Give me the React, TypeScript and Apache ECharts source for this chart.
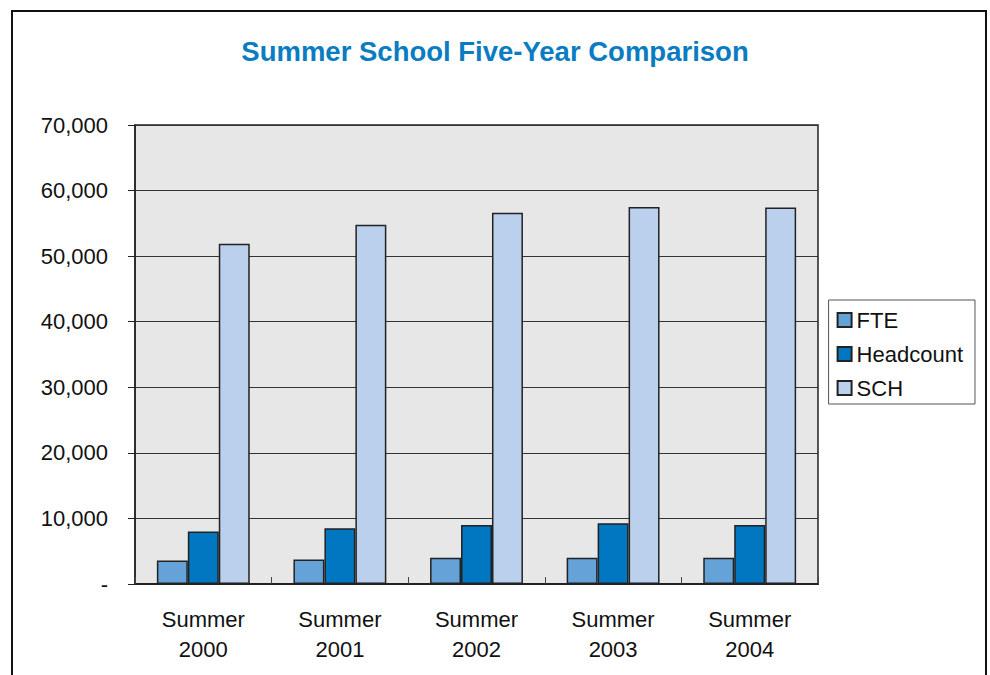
import React, { useEffect, useRef } from "react";
import * as echarts from "echarts";

const categories = ["Summer\n2000", "Summer\n2001", "Summer\n2002", "Summer\n2003", "Summer\n2004"];
const fte = [3600, 3750, 4000, 4000, 4000];
const headcount = [8000, 8500, 9000, 9250, 9000];
const sch = [51900, 54800, 56600, 57500, 57400];
const seriesNames = ["FTE", "Headcount", "SCH"];
const seriesColors = ["#65A2D8", "#0077C0", "#BAD0EC"];
const titleText = "Summer School Five-Year Comparison";

export default function App() {
  const ref = useRef<HTMLDivElement>(null);
  useEffect(() => {
    if (!ref.current) return;
    const chart = echarts.init(ref.current, null, { renderer: "svg" });
    const font = "'Liberation Sans', Arial, sans-serif";
    const values = [fte, headcount, sch];
    chart.setOption({
      animation: false,
      backgroundColor: "#ffffff",
      textStyle: { fontFamily: font },
      title: {
        text: titleText,
        left: "center",
        top: 32,
        textStyle: { color: "#0A7CC1", fontSize: 27.5, fontWeight: "bold", fontFamily: font },
      },
      graphic: [
        {
          type: "rect",
          shape: { x: 12, y: 11, width: 974, height: 700 },
          style: { fill: "none", stroke: "#111", lineWidth: 2 },
          silent: true,
        },
      ],
      legend: {
        orient: "vertical",
        right: 15,
        top: 300,
        itemWidth: 14,
        itemHeight: 14,
        itemGap: 12,
        icon: "rect",
        backgroundColor: "#ffffff",
        borderColor: "#555",
        borderWidth: 1,
        padding: [9, 12, 5, 8],
        textStyle: { fontSize: 22, color: "#111", fontFamily: font },
        data: seriesNames,
      },
      grid: {
        left: 135,
        top: 125,
        right: 172,
        bottom: 91,
        show: true,
        backgroundColor: "#E6E7E6",
        borderColor: "#222",
        borderWidth: 1.5,
      },
      xAxis: {
        type: "category",
        data: categories,
        axisLine: { lineStyle: { color: "#222", width: 2 } },
        axisTick: { show: true, inside: true, length: 7, lineStyle: { color: "#444" } },
        axisLabel: { fontSize: 22, color: "#111", lineHeight: 30, margin: 20, fontFamily: font },
      },
      yAxis: {
        type: "value",
        min: 0,
        max: 70000,
        interval: 10000,
        axisLine: { show: true, lineStyle: { color: "#222", width: 1.5 } },
        axisTick: { show: true, length: 7, lineStyle: { color: "#222" } },
        splitLine: { lineStyle: { color: "#333", width: 1 } },
        axisLabel: {
          fontSize: 22,
          color: "#111",
          margin: 27,
          fontFamily: font,
          formatter: (v: number) => (v === 0 ? "-" : v.toLocaleString("en-US")),
        },
      },
      series: seriesNames.map((name, i) => ({
        name,
        type: "bar",
        data: values[i],
        barGap: "0%",
        barCategoryGap: "32%",
        itemStyle: { color: seriesColors[i], borderColor: "#222", borderWidth: 1.5 },
      })),
    });
    return () => chart.dispose();
  }, []);
  return <div ref={ref} style={{ position: "fixed", left: 0, top: 0, width: 990, height: 675 }} />;
}
